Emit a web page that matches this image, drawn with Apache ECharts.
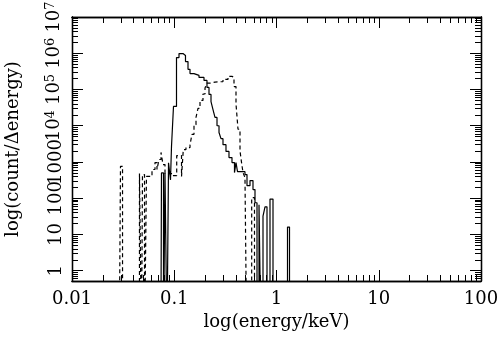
<!DOCTYPE html>
<html>
<head>
<meta charset="utf-8">
<script src="https://cdn.jsdelivr.net/npm/echarts@6/dist/echarts.min.js"></script>
<style>
html,body{margin:0;padding:0;background:#fff;}
#chart{width:500px;height:341px;}
</style>
</head>
<body>
<div id="chart"></div>
<script>
// ---- data (bin left edges in keV, counts per bin; 0 = empty bin) ----
const solidEnergy = [0.0740, 0.0750, 0.0785, 0.0812, 0.0849, 0.0879, 0.0919, 0.0940, 0.0983, 0.1052,
  0.1113, 0.1218, 0.1288, 0.1363, 0.1426, 0.1560, 0.1746, 0.1954, 0.2090, 0.2187,
  0.2288, 0.2393, 0.2503, 0.2619, 0.2740, 0.2865, 0.2997, 0.3206, 0.3430, 0.3670,
  0.3883, 0.4017, 0.4155, 0.4918, 0.5146, 0.5505, 0.5890, 0.6162, 0.6446, 0.6744,
  0.7054, 0.7379, 0.7718, 0.8075, 0.8638, 0.9243, 1.2812, 1.3403];
const solidCounts = [0, 500, 0, 500, 0, 950, 320, 2700, 34000, 760000,
  980000, 870000, 590000, 360000, 275000, 245000, 215000, 178000, 114000, 73000,
  46000, 28000, 17000, 10000, 6500, 4400, 3000, 1950, 1320, 960,
  510, 960, 540, 450, 222, 307, 173, 75, 0, 66,
  0, 32, 58, 0, 95, 0, 16, 0];

const dashedEnergy = [0.0290, 0.0298, 0.0312, 0.0457, 0.0478, 0.0489, 0.0512, 0.0535, 0.0606, 0.0648,
  0.0678, 0.0709, 0.0742, 0.0776, 0.0812, 0.0961, 0.1057, 0.1178, 0.1226, 0.1302,
  0.1426, 0.1491, 0.1560, 0.1632, 0.1707, 0.1786, 0.1910, 0.1999, 0.2090, 0.2237,
  0.2503, 0.2997, 0.3354, 0.3670, 0.3840, 0.4017, 0.4202, 0.4396, 0.4567, 0.4705,
  0.4918, 0.5111, 0.5719, 0.6091];
const dashedCounts = [0, 760, 0, 480, 0, 450, 0, 400, 620, 960,
  620, 1170, 1830, 850, 480, 420, 1500, 400, 2200, 2500,
  3000, 5800, 10700, 17000, 30000, 50000, 75000, 110000, 150000, 160000,
  165000, 190000, 230000, 215000, 120000, 40000, 8000, 2000, 900, 510,
  370, 0, 104, 0];

// ---- axes / ticks ----
const xTickValues = [0.01, 0.1, 1, 10, 100];
const xTickLabels = ['0.01', '0.1', '1', '10', '100'];
const xMinorValues = [];
[0.01, 0.1, 1, 10].forEach(d => { for (let k = 2; k <= 9; k++) xMinorValues.push(+(d * k).toPrecision(3)); });
const yTickValues = [1, 10, 100, 1000, 1e4, 1e5, 1e6, 1e7];
const yTickLabels = ['1', '10', '100', '1000', '10{s|4}', '10{s|5}', '10{s|6}', '10{s|7}'];
const yMinorValues = [0.6, 0.7, 0.8, 0.9];
[1, 10, 100, 1000, 1e4, 1e5, 1e6].forEach(d => { for (let k = 2; k <= 9; k++) yMinorValues.push(+(d * k).toPrecision(3)); });

const X_MIN = 0.01, X_MAX = 100, Y_MIN = 0.52, Y_MAX = 1e7;
const FLOOR = 0.01; // empty bins drawn below the axis, clipped

const FONT = 'DejaVu Serif';
const lineStyle = { color: '#000', width: 1.3 };

function xAxisDef(pos, major, withLabels) {
  return {
    type: 'log', logBase: 10, min: X_MIN, max: X_MAX, position: pos,
    axisLine: { show: true, onZero: false, lineStyle },
    axisTick: { show: true, inside: true, length: major ? 11 : 6, lineStyle: { color: '#000', width: 1 },
      customValues: major ? xTickValues : xMinorValues },
    axisLabel: withLabels ? {
      show: true, customValues: xTickValues, margin: 9,
      fontFamily: FONT, fontSize: 18, color: '#000',
      formatter: v => xTickLabels[xTickValues.findIndex(t => Math.abs(t - v) / t < 1e-6)]
    } : { show: false },
    splitLine: { show: false },
    name: withLabels ? 'log(energy/keV)' : '',
    nameLocation: 'middle', nameGap: 31,
    nameTextStyle: { fontFamily: FONT, fontSize: 18, color: '#000' }
  };
}
function yAxisDef(pos, major, withLabels) {
  return {
    type: 'log', logBase: 10, min: Y_MIN, max: Y_MAX, position: pos,
    axisLine: { show: true, onZero: false, lineStyle },
    axisTick: { show: true, inside: true, length: major ? 11 : 6, lineStyle: { color: '#000', width: 1 },
      customValues: major ? yTickValues : yMinorValues },
    axisLabel: withLabels ? {
      show: true, customValues: yTickValues, margin: 7, rotate: 90,
      fontFamily: FONT, fontSize: 18, color: '#000',
      rich: { s: { fontFamily: FONT, fontSize: 13, verticalAlign: 'top', color: '#000', padding: [0, 0, 8, 0] } },
      formatter: v => yTickLabels[yTickValues.findIndex(t => Math.abs(t - v) / t < 1e-6)]
    } : { show: false },
    splitLine: { show: false },
    name: withLabels ? 'log(count/Δenergy)' : '',
    nameLocation: 'middle', nameGap: 50, nameRotate: 90,
    nameTextStyle: { fontFamily: FONT, fontSize: 18, color: '#000' }
  };
}

const pairs = (xs, ys) => xs.map((x, i) => [x, ys[i] > 0 ? ys[i] : FLOOR]);

const chart = echarts.init(document.getElementById('chart'), null, { renderer: 'canvas' });
chart.setOption({
  animation: false,
  backgroundColor: '#fff',
  grid: { left: 72, right: 19, top: 17, bottom: 60, containLabel: false, outerBoundsMode: 'none' },
  xAxis: [xAxisDef('bottom', true, true), xAxisDef('bottom', false, false),
          xAxisDef('top', true, false), xAxisDef('top', false, false)],
  yAxis: [yAxisDef('left', true, true), yAxisDef('left', false, false),
          yAxisDef('right', true, false), yAxisDef('right', false, false)],
  series: [
    { type: 'line', step: 'end', showSymbol: false, symbol: 'none', clip: true,
      xAxisIndex: 0, yAxisIndex: 0,
      lineStyle: { color: '#000', width: 1.2, type: 'solid' },
      data: pairs(solidEnergy, solidCounts) },
    { type: 'line', step: 'end', showSymbol: false, symbol: 'none', clip: true,
      xAxisIndex: 0, yAxisIndex: 0,
      lineStyle: { color: '#000', width: 1.2, type: [4, 3] },
      data: pairs(dashedEnergy, dashedCounts) }
  ]
});
</script>
</body>
</html>
